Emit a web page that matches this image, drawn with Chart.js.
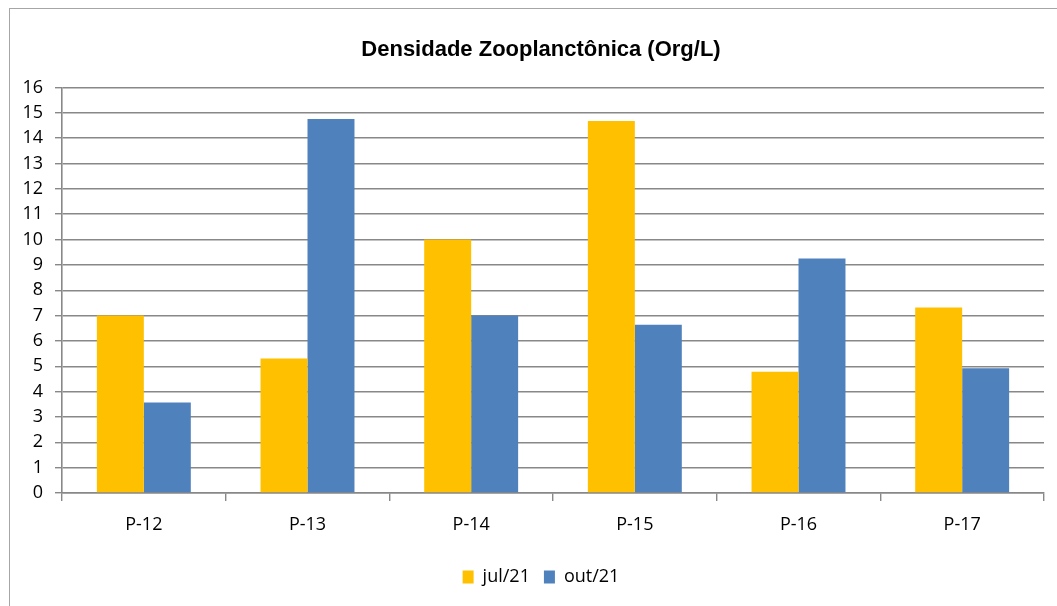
<!DOCTYPE html>
<html>
<head>
<meta charset="utf-8">
<script src="https://cdn.jsdelivr.net/npm/chart.js@4/dist/chart.umd.min.js"></script>
<style>
  html, body { margin: 0; padding: 0; background: #fff; overflow: hidden; }
  #wrap { position: relative; width: 1057px; height: 606px; }
  #frame { position: absolute; left: 9px; top: 8px; width: 1100px; height: 700px; border: 1px solid #a6a6a6; box-sizing: border-box; }
  canvas { position: absolute; left: 0; top: 0; }
</style>
</head>
<body>
<div id="wrap">
  <div id="frame"></div>
  <canvas id="c" width="1057" height="606"></canvas>
</div>
<script>
const titleText = 'Densidade Zooplanctônica (Org/L)';
const categories = ['P-12', 'P-13', 'P-14', 'P-15', 'P-16', 'P-17'];
const seriesNames = ['jul/21', 'out/21'];
const jul21 = [7.0, 5.31, 10.0, 14.67, 4.78, 7.32];
const out21 = [3.57, 14.75, 7.0, 6.64, 9.25, 4.92];
const yTicks = [0, 1, 2, 3, 4, 5, 6, 7, 8, 9, 10, 11, 12, 13, 14, 15, 16];

const tickFont = { family: "'Open Sans', sans-serif", size: 18 };

const shiftBlocks = {
  id: 'shiftBlocks',
  afterLayout(chart) {
    if (chart.legend) { chart.legend.left += 19; chart.legend.right += 19; }
    if (chart.titleBlock) { chart.titleBlock.left += 19; chart.titleBlock.right += 19; }
  }
};

new Chart(document.getElementById('c'), {
  type: 'bar',
  data: {
    labels: categories,
    datasets: [
      { label: seriesNames[0], data: jul21, backgroundColor: '#FFC000', borderWidth: 0 },
      { label: seriesNames[1], data: out21, backgroundColor: '#4F81BD', borderWidth: 0 }
    ]
  },
  plugins: [shiftBlocks],
  options: {
    responsive: false,
    animation: false,
    devicePixelRatio: 1,
    layout: { padding: { left: 0, right: 13, top: 0, bottom: 10 } },
    datasets: { bar: { categoryPercentage: 0.574, barPercentage: 1.0 } },
    plugins: {
      title: {
        display: true,
        text: titleText,
        color: '#000',
        font: { family: "'Liberation Sans', Arial, sans-serif", size: 22, weight: 'bold' },
        padding: { top: 37, bottom: 24 }
      },
      legend: {
        display: true,
        position: 'bottom',
        labels: {
          color: '#000',
          font: tickFont,
          boxWidth: 11,
          boxHeight: 13,
          padding: 14
        }
      },
      tooltip: { enabled: false }
    },
    scales: {
      x: {
        offset: true,
        grid: {
          offset: true,
          drawOnChartArea: false,
          drawTicks: true,
          tickLength: 8,
          color: '#888',
          lineWidth: 1.4
        },
        border: { display: true, color: '#888', width: 1.6 },
        ticks: { color: '#000', font: tickFont, padding: 13 },
        afterFit: (s) => { s.height = 61; }
      },
      y: {
        min: 0,
        max: 16,
        afterBuildTicks: (s) => { s.ticks = yTicks.map(v => ({ value: v })); },
        grid: {
          drawOnChartArea: true,
          drawTicks: true,
          tickLength: 7,
          color: '#888',
          lineWidth: 1.4
        },
        border: { display: true, color: '#888', width: 1.6 },
        ticks: { color: '#000', font: tickFont, padding: 12, stepSize: 1 },
        afterFit: (s) => { s.width = 62; }
      }
    }
  }
});
</script>
</body>
</html>
